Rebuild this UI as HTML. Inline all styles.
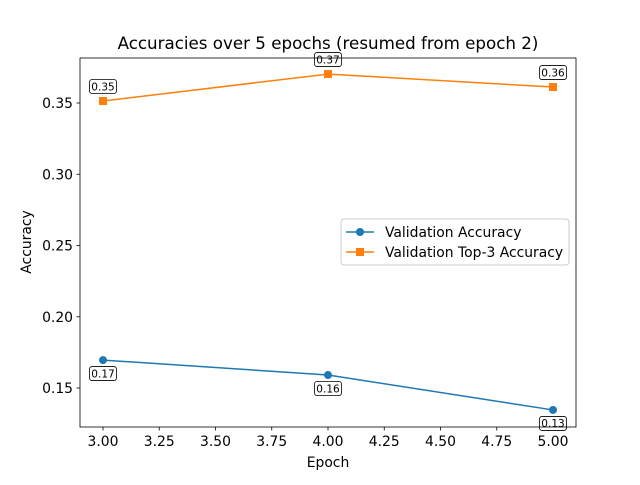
<!DOCTYPE html>
<html><head><meta charset="utf-8"><style>
body{margin:0;background:#fff;}
svg text{font-family:"DejaVu Sans","Liberation Sans",sans-serif;}
</style></head><body>
<svg id="chart" width="640" height="480" xmlns="http://www.w3.org/2000/svg">
<rect width="640" height="480" fill="#fff"/>
<text x="328" y="49" font-size="16.7" text-anchor="middle">Accuracies over 5 epochs (resumed from epoch 2)</text>
<g id="xticks"></g><g id="yticks"></g><g id="series"></g>
<rect x="80" y="58" width="496" height="369" fill="none" stroke="#000" stroke-width="0.8"/>
<text x="328" y="467" font-size="13.9" text-anchor="middle">Epoch</text>
<text transform="translate(31,242) rotate(-90)" font-size="13.9" text-anchor="middle">Accuracy</text>
<g>
<rect x="341" y="219" width="228" height="46" rx="3" fill="#fff" fill-opacity="0.8" stroke="#ccc"/>
<line x1="346" y1="232" x2="374" y2="232" stroke="#1f77b4" stroke-width="1.5"/><circle cx="360" cy="232" r="4" fill="#1f77b4"/>
<text x="385" y="237" font-size="13.9">Validation Accuracy</text>
<line x1="346" y1="252" x2="374" y2="252" stroke="#ff7f0e" stroke-width="1.5"/><rect x="356" y="248" width="8" height="8" fill="#ff7f0e"/>
<text x="385" y="257" font-size="13.9">Validation Top-3 Accuracy</text>
</g>
</svg>
<script>
const epochs=[3,4,5];
const valAcc=[0.1696,0.1591,0.1346];
const top3Acc=[0.3514,0.3703,0.3612];
const xTickVals=[3.0,3.25,3.5,3.75,4.0,4.25,4.5,4.75,5.0];
const yTickVals=[0.15,0.20,0.25,0.30,0.35];
const NS="http://www.w3.org/2000/svg";
const X=v=>103+(v-3)*225;
const Y=v=>388-(v-0.15)*1425;
function mk(tag,attrs,parent,text){const e=document.createElementNS(NS,tag);for(const k in attrs)e.setAttribute(k,attrs[k]);if(text!==undefined)e.textContent=text;parent.appendChild(e);return e;}
const xg=document.getElementById('xticks'),yg=document.getElementById('yticks'),sg=document.getElementById('series');
xTickVals.forEach(v=>{const x=X(v);
 const t=mk('line',{x1:x,x2:x,y1:427,y2:430.5,stroke:'#000','stroke-width':0.8},xg);
 
 
 const l=mk('text',{x:x,y:446,'font-size':13.9,'text-anchor':'middle'},xg,v.toFixed(2));
 
 });
yTickVals.forEach(v=>{const y=Y(v);
 const t=mk('line',{x1:76.5,x2:80,y1:y,y2:y,stroke:'#000','stroke-width':0.8},yg);
 
 
 const l=mk('text',{x:73,y:y+5,'font-size':13.9,'text-anchor':'end'},yg,v.toFixed(2));
 
 });
function series(vals,color,name,square,dy){
 const p=mk('polyline',{points:epochs.map((e,i)=>X(e)+','+Y(vals[i])).join(' '),fill:'none',stroke:color,'stroke-width':1.5},sg);
 
 
 epochs.forEach((e,i)=>{const x=X(e),y=Y(vals[i]);
  const m=square?mk('rect',{x:x-4,y:y-4,width:8,height:8,fill:color},sg):mk('circle',{cx:x,cy:y,r:4,fill:color},sg);
  
  
  const ly=y+dy;
  const b=mk('rect',{x:x-13.5,y:ly-7,width:27,height:14,rx:2.5,fill:'#fff',stroke:'#000','stroke-width':0.8},sg);
  
  
  const t=mk('text',{x:x,y:ly+3.8,'font-size':10.5,'text-anchor':'middle'},sg,vals[i].toFixed(2));
  
  });
}
series(valAcc,'#1f77b4','validation-accuracy',false,13.5);
series(top3Acc,'#ff7f0e','validation-top3-accuracy',true,-14.5);
</script>
</body></html>
